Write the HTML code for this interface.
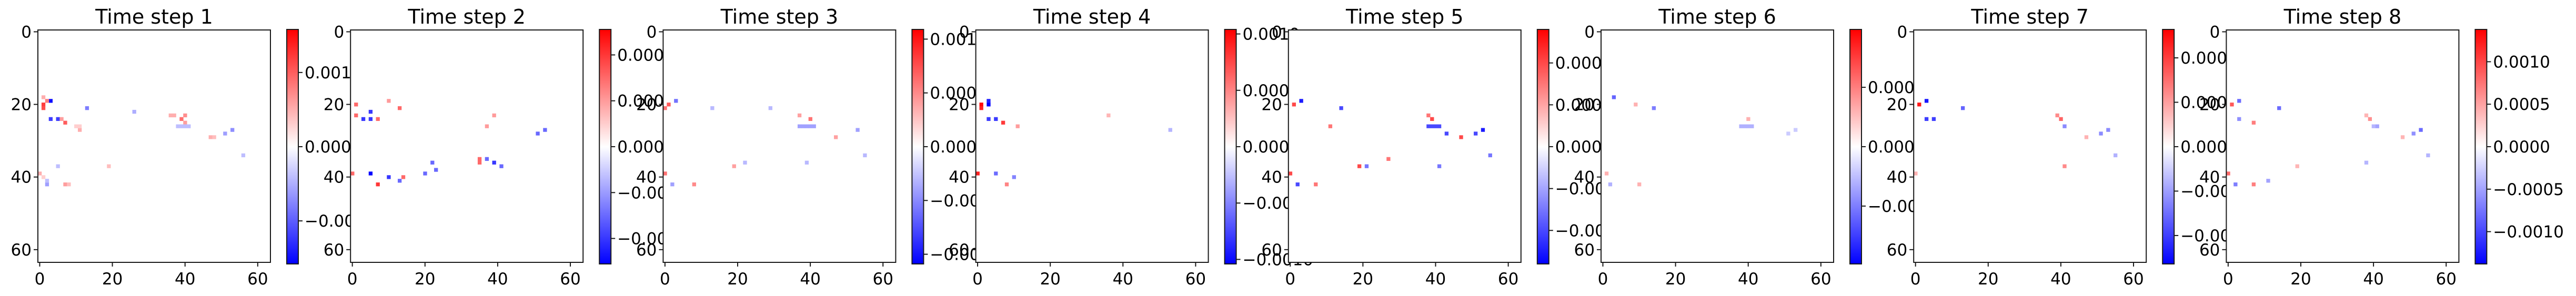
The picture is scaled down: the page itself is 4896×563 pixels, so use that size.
<!DOCTYPE html>
<html><head><meta charset="utf-8"><title>Time steps heatmaps</title>
<style>
html,body{margin:0;padding:0;background:#fff;}
svg{display:block;font-family:"DejaVu Sans","Liberation Sans",sans-serif;}
</style></head>
<body>
<svg id="fig" width="4896" height="563" viewBox="0 0 4896 563" xmlns="http://www.w3.org/2000/svg"></svg>
<script>
// ---- data ----
const titles = ["Time step 1","Time step 2","Time step 3","Time step 4","Time step 5","Time step 6","Time step 7","Time step 8"];
const vmaxes = [0.00158, 0.000511, 0.00109, 0.00104, 0.00056, 0.000987, 0.00066, 0.00138];
const cbTicks1 = [0.001, 0, -0.001];
const cbTicks2 = [0.0004, 0.0002, 0, -0.0002, -0.0004];
const cbTicks3 = [0.001, 0.0005, 0, -0.0005, -0.001];
const cbTicks4 = [0.001, 0.0005, 0, -0.0005, -0.001];
const cbTicks5 = [0.0004, 0.0002, 0, -0.0002, -0.0004];
const cbTicks6 = [0.0005, 0, -0.0005];
const cbTicks7 = [0.0005, 0.00025, 0, -0.00025, -0.0005];
const cbTicks8 = [0.001, 0.0005, 0, -0.0005, -0.001];
const cbLabels1 = ["0.001","0.000","\u22120.001"];
const cbLabels2 = ["0.0004","0.0002","0.0000","\u22120.0002","\u22120.0004"];
const cbLabels3 = ["0.0010","0.0005","0.0000","\u22120.0005","\u22120.0010"];
const cbLabels4 = ["0.0010","0.0005","0.0000","\u22120.0005","\u22120.0010"];
const cbLabels5 = ["0.0004","0.0002","0.0000","\u22120.0002","\u22120.0004"];
const cbLabels6 = ["0.0005","0.0000","\u22120.0005"];
const cbLabels7 = ["0.00050","0.00025","0.00000","\u22120.00025","\u22120.00050"];
const cbLabels8 = ["0.0010","0.0005","0.0000","\u22120.0005","\u22120.0010"];
const axisTicks = [0, 20, 40, 60];
// cells: [row, col, value]
const cellsStep1 = [[19,3,-0.0015],[20,1,0.0012],[21,1,0.0011],[19,2,0.0008],[18,1,0.0005],[24,3,-0.0012],[24,5,-0.0012],[25,7,0.001],[24,6,0.0006],[21,13,-0.0008],[24,39,0.0009],[23,40,0.0007],[23,36,0.0005],[23,37,0.0005],[25,40,0.0006],[26,38,-0.0004],[26,39,-0.0004],[26,40,-0.0004],[26,41,-0.0004],[27,53,-0.0007],[28,51,-0.0006],[29,47,0.0005],[29,48,0.0004],[22,26,-0.0005],[27,11,0.0005],[26,10,0.0003],[26,11,0.0003],[42,2,-0.0006],[39,0,0.0005],[42,7,0.0006],[42,8,0.0004],[37,5,-0.0004],[34,56,-0.0004],[37,19,0.0004],[40,1,0.0003],[41,2,-0.0004]];
const cellsStep2 = [[39,5,-0.0005],[22,5,-0.0004],[24,3,-0.0004],[24,5,-0.0004],[24,7,0.0003],[20,1,0.0003],[23,1,0.0003],[21,13,0.0003],[19,10,0.0002],[36,39,-0.0004],[37,41,-0.0003],[35,37,-0.0003],[35,35,0.0003],[36,35,0.0003],[40,10,-0.0004],[41,13,-0.0003],[42,7,0.0004],[40,14,0.0003],[39,20,-0.0003],[38,23,-0.0003],[36,22,-0.0003],[39,0,0.0003],[27,53,-0.0003],[28,51,-0.0003],[23,39,0.0002],[26,37,0.0002]];
const cellsStep3 = [[19,3,-0.0006],[20,1,0.0007],[21,0,0.0006],[24,40,0.0006],[26,37,-0.0004],[26,38,-0.0004],[26,39,-0.0004],[26,40,-0.0004],[26,41,-0.0004],[27,53,-0.0004],[29,47,0.0004],[39,0,0.0006],[42,2,-0.0004],[42,8,0.0005],[36,39,-0.0003],[36,22,-0.0003],[37,19,0.0004],[34,55,-0.0003],[21,13,-0.0003],[21,29,-0.0003],[23,37,0.0004]];
const cellsStep4 = [[20,3,-0.0011],[19,3,-0.0009],[20,1,0.001],[21,1,0.0009],[24,3,-0.0008],[24,5,-0.0008],[25,7,0.0008],[39,0,0.0009],[39,5,-0.0006],[40,10,-0.0005],[42,8,0.0005],[23,36,0.0003],[27,53,-0.0003],[26,11,0.0004]];
const cellsStep5 = [[19,3,-0.0005],[20,1,0.0004],[21,14,-0.0004],[24,39,0.0004],[23,38,0.0003],[26,38,-0.0004],[26,39,-0.0004],[26,40,-0.0004],[26,41,-0.0004],[27,53,-0.0005],[28,51,-0.0004],[28,43,-0.0004],[29,47,0.0004],[39,0,0.0004],[42,2,-0.0004],[42,7,0.0003],[37,19,0.0004],[37,21,-0.0003],[34,55,-0.0003],[35,27,0.0003],[37,41,-0.0003],[26,11,0.0003]];
const cellsStep6 = [[18,3,-0.0006],[21,14,-0.0005],[24,40,0.0003],[26,38,-0.0003],[26,39,-0.0003],[26,40,-0.0003],[26,41,-0.0003],[39,1,0.0003],[42,2,-0.0003],[42,10,0.0003],[27,53,-0.0002],[20,9,0.0003],[28,51,-0.0002]];
const cellsStep7 = [[20,1,0.0006],[19,3,-0.0006],[24,3,-0.0005],[24,5,-0.0005],[21,13,-0.0004],[24,40,0.0004],[23,39,0.0003],[26,41,-0.0003],[28,51,-0.0003],[27,53,-0.0003],[29,47,0.0002],[39,0,0.0002],[37,41,0.0003],[34,55,-0.0002]];
const cellsStep8 = [[21,14,-0.0008],[24,39,0.0006],[23,38,0.0004],[26,41,-0.0005],[26,40,-0.0004],[27,53,-0.0008],[28,51,-0.0006],[29,48,0.0004],[37,19,0.0004],[36,38,-0.0004],[34,55,-0.0004],[41,11,-0.0005],[19,3,-0.0008],[20,1,0.0009],[25,7,0.0007],[24,3,-0.0006],[39,0,0.0008],[42,2,-0.0007],[42,7,0.0007]];

const cbTicksAll = [cbTicks1,cbTicks2,cbTicks3,cbTicks4,cbTicks5,cbTicks6,cbTicks7,cbTicks8];
const cbLabelsAll = [cbLabels1,cbLabels2,cbLabels3,cbLabels4,cbLabels5,cbLabels6,cbLabels7,cbLabels8];
const cellsAll = [cellsStep1,cellsStep2,cellsStep3,cellsStep4,cellsStep5,cellsStep6,cellsStep7,cellsStep8];

// ---- rendering ----
const NS = "http://www.w3.org/2000/svg";
const svg = document.getElementById("fig");
function mk(tag, attrs, parent){
  const e = document.createElementNS(NS, tag);
  for (const k in attrs) e.setAttribute(k, attrs[k]);
  (parent||svg).appendChild(e);
  return e;
}
function bwr(t){
  t = Math.max(-1, Math.min(1, t));
  if (t < 0){ const v = Math.round(255*(1+t)); return `rgb(${v},${v},255)`; }
  const v = Math.round(255*(1-t)); return `rgb(255,${v},${v})`;
}
const N = 64, AX_TOP = 57, AX_SIZE = 442, CELL = AX_SIZE/N;
const PITCH = 594.2, FIRST_LEFT = 72, CB_OFF = 473, CB_W = 22, CB_TOP = 56, CB_H = 446;
const INK = "#1a1a1a";

for (let p = 0; p < 8; p++){
  const left = FIRST_LEFT + p*PITCH;
  const g = mk("g", {});
  
  
  const xs = c => left + c*CELL;
  const ys = r => AX_TOP + r*CELL;
  // background
  mk("rect", {x:left, y:AX_TOP, width:AX_SIZE, height:AX_SIZE, fill:"#fff"}, g);
  // cells
  const vmax = vmaxes[p];
  cellsAll[p].forEach(d => {
    const r = mk("rect", {x:xs(d[1]).toFixed(2), y:ys(d[0]).toFixed(2), width:(CELL+0.4).toFixed(2), height:(CELL+0.4).toFixed(2), fill:bwr(d[2]/vmax)}, g);
    
    
  });
  // frame
  const fr = mk("rect", {x:left, y:AX_TOP, width:AX_SIZE, height:AX_SIZE, fill:"none", stroke:INK, "stroke-width":2}, g);
  
  
  // title
  const tt = mk("text", {x:left+AX_SIZE/2, y:45, "text-anchor":"middle", "font-size":38, fill:"#000"}, g);
  tt.textContent = titles[p];
  
  
  // ticks
  axisTicks.forEach(v => {
    const cx = xs(v+0.5), cy = ys(v+0.5);
    mk("line", {x1:cx, x2:cx, y1:AX_TOP+AX_SIZE, y2:AX_TOP+AX_SIZE+8, stroke:INK, "stroke-width":2}, g);
    const xl = mk("text", {x:cx, y:541, "text-anchor":"middle", "font-size":31, fill:"#000"}, g);
    xl.textContent = String(v);
    
    
    mk("line", {x1:left-8, x2:left, y1:cy, y2:cy, stroke:INK, "stroke-width":2}, g);
    const yl = mk("text", {x:left-12, y:cy+11, "text-anchor":"end", "font-size":31, fill:"#000"}, g);
    yl.textContent = String(v);
    
    
  });
  // colorbar
  const cbx = left + CB_OFF;
  const gid = "cbgrad" + p;
  const defs = mk("defs", {}, g);
  const lg = mk("linearGradient", {id:gid, x1:0, y1:1, x2:0, y2:0}, defs);
  for (let i = 0; i <= 10; i++){
    const t = -1 + i*0.2;
    mk("stop", {offset:(i*10)+"%", "stop-color":bwr(t)}, lg);
  }
  const cb = mk("rect", {x:cbx, y:CB_TOP, width:CB_W, height:CB_H, fill:`url(#${gid})`, stroke:INK, "stroke-width":2}, g);
  
  
  const cbY = v => CB_TOP + CB_H/2 - (v/vmax)*(CB_H/2);
  cbTicksAll[p].forEach((v, i) => {
    const y = cbY(v);
    mk("line", {x1:cbx+CB_W, x2:cbx+CB_W+8, y1:y, y2:y, stroke:INK, "stroke-width":2}, g);
    const l = mk("text", {x:cbx+CB_W+12, y:y+11, "text-anchor":"start", "font-size":31, fill:"#000"}, g);
    l.textContent = cbLabelsAll[p][i];
    
    
  });
}
</script>
</body></html>
